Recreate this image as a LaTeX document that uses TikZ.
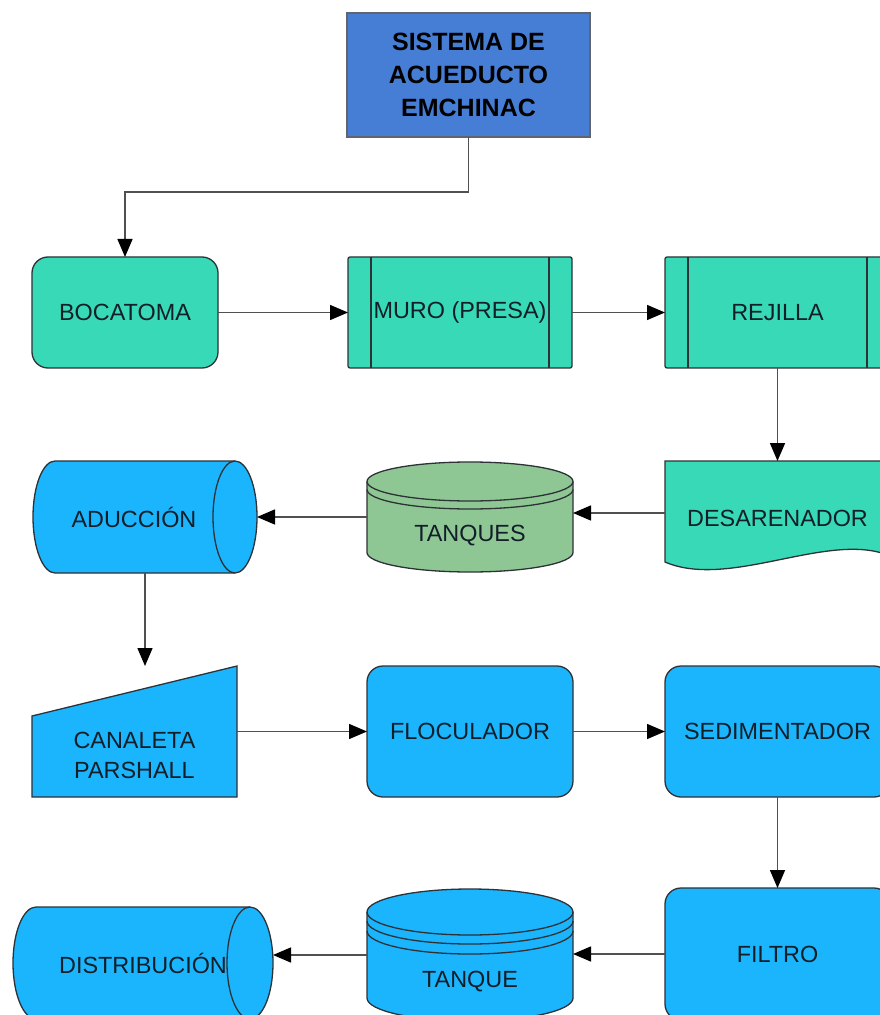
\documentclass[tikz,border=0pt]{standalone}
\usepackage{fontspec}
\setmainfont{Liberation Sans}
\usetikzlibrary{arrows.meta,backgrounds}
\definecolor{topblue}{RGB}{71,126,213}
\definecolor{topedge}{RGB}{95,100,110}
\definecolor{tealC}{RGB}{56,217,182}
\definecolor{blueC}{RGB}{27,181,254}
\definecolor{greenC}{RGB}{143,199,148}
\definecolor{lineC}{RGB}{45,50,55}
\definecolor{arrowC}{RGB}{80,80,80}
\definecolor{txtC}{RGB}{18,30,40}
\tikzset{
  lbl/.style      = {inner sep=0pt, align=center, text=txtC,
                     font=\fontsize{11.7}{15}\selectfont},
  base/.style     = {lbl, draw=lineC, line width=0.65pt, outer sep=0pt},
  titlebox/.style = {base, fill=topblue, draw=topedge, line width=1.2pt, text=black,
                     font=\bfseries\fontsize{12.5}{16.5}\selectfont},
  roundbox/.style = {base, rounded corners=8pt},
  procbox/.style  = {base, rounded corners=1pt, path picture={
                     \draw[lineC, line width=0.65pt]
                       ([xshift=11.5pt]path picture bounding box.north west) --
                       ([xshift=11.5pt]path picture bounding box.south west)
                       ([xshift=-11.5pt]path picture bounding box.north east) --
                       ([xshift=-11.5pt]path picture bounding box.south east);}},
  ghost/.style    = {base, draw=none},
  outline/.style  = {draw=lineC, line width=0.65pt},
  flow/.style     = {-{Triangle[length=9pt,width=7.5pt,color=black]},
                     draw=arrowC, line width=0.75pt}
}
\begin{document}
\begin{tikzpicture}[x=0.5pt,y=0.5pt]
  \useasboundingbox (0,0) rectangle (879,-1015);
  % top of the chart
  \node[titlebox, minimum width=121.5pt, minimum height=62pt] (top) at (468.5,-75)
       {SISTEMA DE\\ACUEDUCTO\\EMCHINAC};
  % row 1
  \node[roundbox, fill=tealC, minimum width=93pt, minimum height=55.5pt] (boca) at (125,-312.5) {BOCATOMA};
  \node[procbox, fill=tealC, minimum width=112pt, minimum height=55.5pt] (muro) at (460,-312.5) {MURO (PRESA)};
  \node[procbox, fill=tealC, minimum width=112.5pt, minimum height=55.5pt] (rejilla) at (777.5,-312.5) {REJILLA};
  % row 2
  \node[ghost, minimum width=112.5pt, minimum height=52pt,
        label={[lbl,yshift=-2.5pt]center:DESARENADOR}] (desar) at (777.5,-513) {};
  \node[ghost, minimum width=103pt, minimum height=55pt,
        label={[lbl,yshift=-9.5pt]center:TANQUES}] (tanq) at (470,-517) {};
  \node[ghost, minimum width=112pt, minimum height=56pt,
        label={[lbl,xshift=-5.5pt]center:ADUCCIÓN}] (aduc) at (145,-517) {};
  % row 3
  \node[ghost, minimum width=102.5pt, minimum height=65.5pt,
        label={[lbl,yshift=-11.75pt]center:CANALETA\\PARSHALL}] (canal) at (134.5,-731.5) {};
  \node[roundbox, fill=blueC, minimum width=103pt, minimum height=65.5pt] (floc) at (470,-731.5) {FLOCULADOR};
  \node[roundbox, fill=blueC, minimum width=112.5pt, minimum height=65.5pt] (sedim) at (777.5,-731.5) {SEDIMENTADOR};
  % row 4
  \node[roundbox, fill=blueC, minimum width=112.5pt, minimum height=66pt] (filtro) at (777.5,-954) {FILTRO};
  \node[ghost, minimum width=103pt, minimum height=66pt,
        label={[lbl,yshift=-13.5pt]center:TANQUE}] (tanque) at (470,-955) {};
  \node[ghost, minimum width=130pt, minimum height=56pt] (dist) at (143,-963) {DISTRIBUCIÓN};

  % shapes under the texts
  \begin{scope}[on background layer]
    \fill[white] (0,0) rectangle (879,-1015);
    % desarenador (document)
    \filldraw[outline, fill=tealC] (desar.north west) -- (desar.north east)
      -- ([yshift=4.5pt]desar.south east) .. controls +(-60,26) and +(65,-28) .. ([yshift=1.5pt]desar.south west)
      -- cycle;
    % tanques
    \filldraw[outline, fill=greenC] ([yshift=-9.75pt]tanq.north west) -- ([yshift=9.75pt]tanq.south west)
      arc[start angle=180, end angle=360, x radius=51.5pt, y radius=9.75pt]
      -- ([yshift=-9.75pt]tanq.north east)
      arc[start angle=0, end angle=180, x radius=51.5pt, y radius=9.75pt] -- cycle;
    \foreach \d in {0,4} {
      \draw[outline] ([yshift={-(9.75+\d)*1pt}]tanq.north west)
        arc[start angle=180, end angle=360, x radius=51.5pt, y radius=9.75pt]; }
    % aduccion
    \filldraw[outline, fill=blueC] ([xshift=11pt]aduc.north west) -- ([xshift=-11pt]aduc.north east)
      arc[start angle=90, end angle=-90, x radius=11pt, y radius=28pt]
      -- ([xshift=11pt]aduc.south west)
      arc[start angle=270, end angle=90, x radius=11pt, y radius=28pt] -- cycle;
    \draw[outline] ([xshift=-11pt]aduc.north east)
      arc[start angle=90, end angle=270, x radius=11pt, y radius=28pt];
    % canaleta parshall
    \filldraw[outline, fill=blueC] ([yshift=-25pt]canal.north west) -- (canal.north east)
      -- (canal.south east) -- (canal.south west) -- cycle;
    % tanque
    \filldraw[outline, fill=blueC] ([yshift=-11.5pt]tanque.north west) -- ([yshift=11.5pt]tanque.south west)
      arc[start angle=180, end angle=360, x radius=51.5pt, y radius=11.5pt]
      -- ([yshift=-11.5pt]tanque.north east)
      arc[start angle=0, end angle=180, x radius=51.5pt, y radius=11.5pt] -- cycle;
    \foreach \d in {0,4.5,9.5} {
      \draw[outline] ([yshift={-(11.5+\d)*1pt}]tanque.north west)
        arc[start angle=180, end angle=360, x radius=51.5pt, y radius=11.5pt]; }
    % distribucion
    \filldraw[outline, fill=blueC] ([xshift=11.5pt]dist.north west) -- ([xshift=-11.5pt]dist.north east)
      arc[start angle=90, end angle=-90, x radius=11.5pt, y radius=28pt]
      -- ([xshift=11.5pt]dist.south west)
      arc[start angle=270, end angle=90, x radius=11.5pt, y radius=28pt] -- cycle;
    \draw[outline] ([xshift=-11.5pt]dist.north east)
      arc[start angle=90, end angle=270, x radius=11.5pt, y radius=28pt];
  \end{scope}

  % connectors
  \draw[flow] (top.south) -- ++(0,-55) -| (boca.north);
  \draw[flow] (boca.east) -- (muro.west);
  \draw[flow] (muro.east) -- (rejilla.west);
  \draw[flow] (rejilla.south) -- (desar.north);
  \draw[flow] (desar.west) -- (desar.west -| tanq.east);
  \draw[flow] (tanq.west) -- (aduc.east);
  \draw[flow] (aduc.south) -- (aduc.south |- canal.north);
  \draw[flow] (canal.east) -- (floc.west);
  \draw[flow] (floc.east) -- (sedim.west);
  \draw[flow] (sedim.south) -- (filtro.north);
  \draw[flow] (filtro.west) -- (filtro.west -| tanque.east);
  \draw[flow] (tanque.west) -- (tanque.west -| dist.east);
\end{tikzpicture}
\end{document}
